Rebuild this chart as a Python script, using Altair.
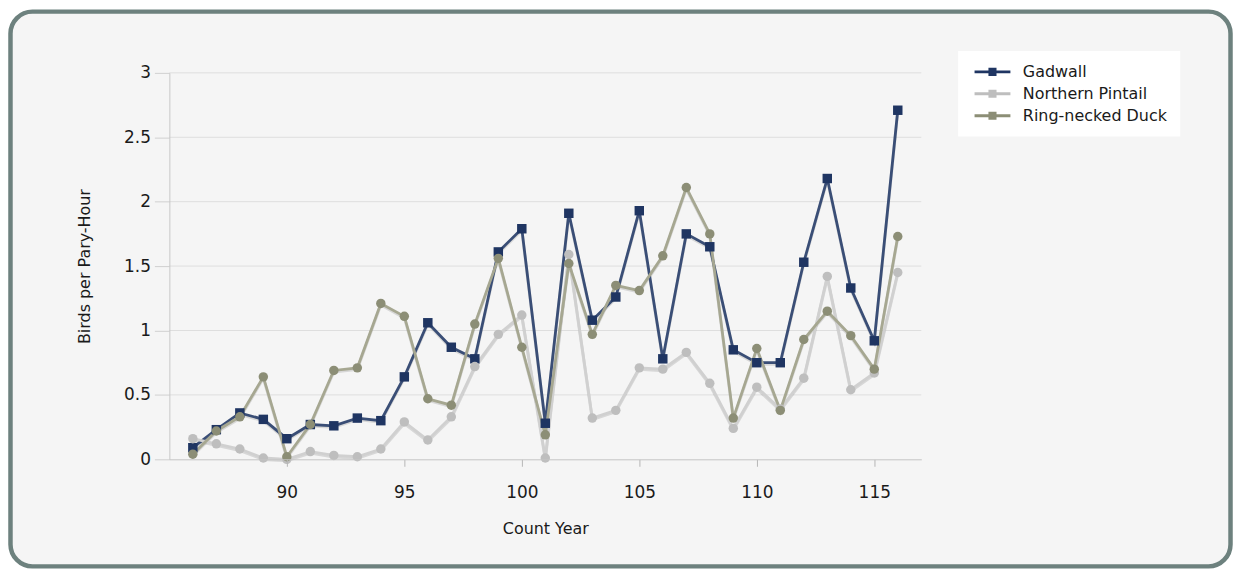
import altair as alt
import pandas as pd

years = list(range(86, 117))
gadwall = [0.09, 0.23, 0.36, 0.31, 0.16, 0.27, 0.26, 0.32, 0.30, 0.64,
           1.06, 0.87, 0.78, 1.61, 1.79, 0.28, 1.91, 1.08, 1.26, 1.93,
           0.78, 1.75, 1.65, 0.85, 0.75, 0.75, 1.53, 2.18, 1.33, 0.92, 2.71]
pintail = [0.16, 0.12, 0.08, 0.01, 0.00, 0.06, 0.03, 0.02, 0.08, 0.29,
           0.15, 0.33, 0.72, 0.97, 1.12, 0.01, 1.59, 0.32, 0.38, 0.71,
           0.70, 0.83, 0.59, 0.24, 0.56, 0.39, 0.63, 1.42, 0.54, 0.67, 1.45]
ringneck = [0.04, 0.22, 0.33, 0.64, 0.02, 0.27, 0.69, 0.71, 1.21, 1.11,
            0.47, 0.42, 1.05, 1.56, 0.87, 0.19, 1.52, 0.97, 1.35, 1.31,
            1.58, 2.11, 1.75, 0.32, 0.86, 0.38, 0.93, 1.15, 0.96, 0.70, 1.73]
series = ["Gadwall", "Northern Pintail", "Ring-necked Duck"]
y_ticks = [0, 0.5, 1, 1.5, 2, 2.5, 3]
x_ticks = [90, 95, 100, 105, 110, 115]

rows = []
for name, vals in zip(series, [gadwall, pintail, ringneck]):
    for yr, v in zip(years, vals):
        rows.append({"year": yr, "value": v, "species": name})
df = pd.DataFrame(rows)

W, H = 755, 388
FONT = "DejaVu Sans"
TXT = "#1a1a1a"

xscale = alt.Scale(domain=[85, 117], nice=False, zero=False)
yscale = alt.Scale(domain=[0, 3], nice=False)

line_colors = ["#3a4e76", "#d0d0d0", "#a6a791"]
point_colors = ["#1f3562", "#bebebe", "#8c8e76"]

x_axis = alt.Axis(values=x_ticks, title="Count Year", grid=False, tickSize=7,
                  tickColor="#b5b5b5", domainColor="#c4c4c4", labelFont=FONT,
                  labelFontSize=17, labelColor=TXT, labelPadding=18, labelFlush=False,
                  titleFont=FONT, titleFontSize=16, titleFontWeight="normal",
                  titleColor=TXT, titleX=W / 2, titleY=70, titleBaseline="middle",
                  zindex=1)
y_axis = alt.Axis(values=y_ticks, format="~g", title="Birds per Pary-Hour", grid=False,
                  tickSize=15, tickColor="#d0d0d0", domainColor="#c8c8c8",
                  labelFont=FONT, labelFontSize=17, labelColor=TXT, labelPadding=4,
                  labelFlush=False, titleFont=FONT, titleFontSize=16,
                  titleFontWeight="normal", titleColor=TXT, titleX=-85, titleY=H / 2,
                  titleAngle=270, titleAlign="center", titleBaseline="middle",
                  zindex=1)

frame = alt.Chart(alt.Data(values=[{"k": 1}])).mark_rect(
    fill="#f5f5f5", stroke="#6d817e", strokeWidth=4.5, cornerRadius=22
).encode(
    x=alt.value(-159.5), x2=alt.value(W + 310.5),
    y=alt.value(-61.5), y2=alt.value(H + 107.5)
)

grid = alt.Chart(pd.DataFrame({"v": y_ticks[1:]})).mark_rule(
    color="#dedede", strokeWidth=1
).encode(y=alt.Y("v:Q", scale=yscale, axis=y_axis))

base = alt.Chart(df)
shadow = base.mark_line(strokeWidth=3, color="#000000", opacity=0.12, yOffset=1.5).encode(
    x=alt.X("year:Q", scale=xscale, axis=x_axis),
    y=alt.Y("value:Q", scale=yscale, axis=y_axis),
    detail="species:N",
)
# stroke scale keeps the data-derived (alphabetical) domain so that its disabled
# legend is not merged with the colour legend of the points
lines = base.mark_line(strokeWidth=2.8).encode(
    x=alt.X("year:Q", scale=xscale, axis=x_axis),
    y=alt.Y("value:Q", scale=yscale, axis=y_axis),
    stroke=alt.Stroke("species:N", scale=alt.Scale(range=line_colors), legend=None),
)

PATH = "M-1,-0.33 H7 V0.33 H-1 Z M2.1,-0.9 H3.9 V0.9 H2.1 Z"
points = base.mark_point(filled=True, size=90, opacity=1).encode(
    x=alt.X("year:Q", scale=xscale, axis=x_axis),
    y=alt.Y("value:Q", scale=yscale, axis=y_axis),
    color=alt.Color("species:N", scale=alt.Scale(domain=series, range=point_colors),
                    legend=alt.Legend(title=None, orient="none", legendX=792, legendY=-22,
                                      symbolType=PATH, symbolSize=81, symbolStrokeWidth=0,
                                      symbolOpacity=1, labelFont=FONT, labelFontSize=16,
                                      labelColor=TXT, labelOffset=36, rowPadding=6,
                                      padding=13, fillColor="#ffffff", zindex=2)),
    shape=alt.condition(alt.datum.species == "Gadwall", alt.value("square"),
                        alt.value("circle")),
)

chart = alt.layer(frame, grid, shadow, lines, points).properties(
    width=W, height=H,
    autosize=alt.AutoSizeParams(type="none"),
    padding={"left": 162, "top": 64, "right": 313, "bottom": 110},
).configure(font=FONT, background="#ffffff").configure_view(stroke="transparent")

chart.save("out.html", embed_options={"renderer": "svg", "actions": False})
